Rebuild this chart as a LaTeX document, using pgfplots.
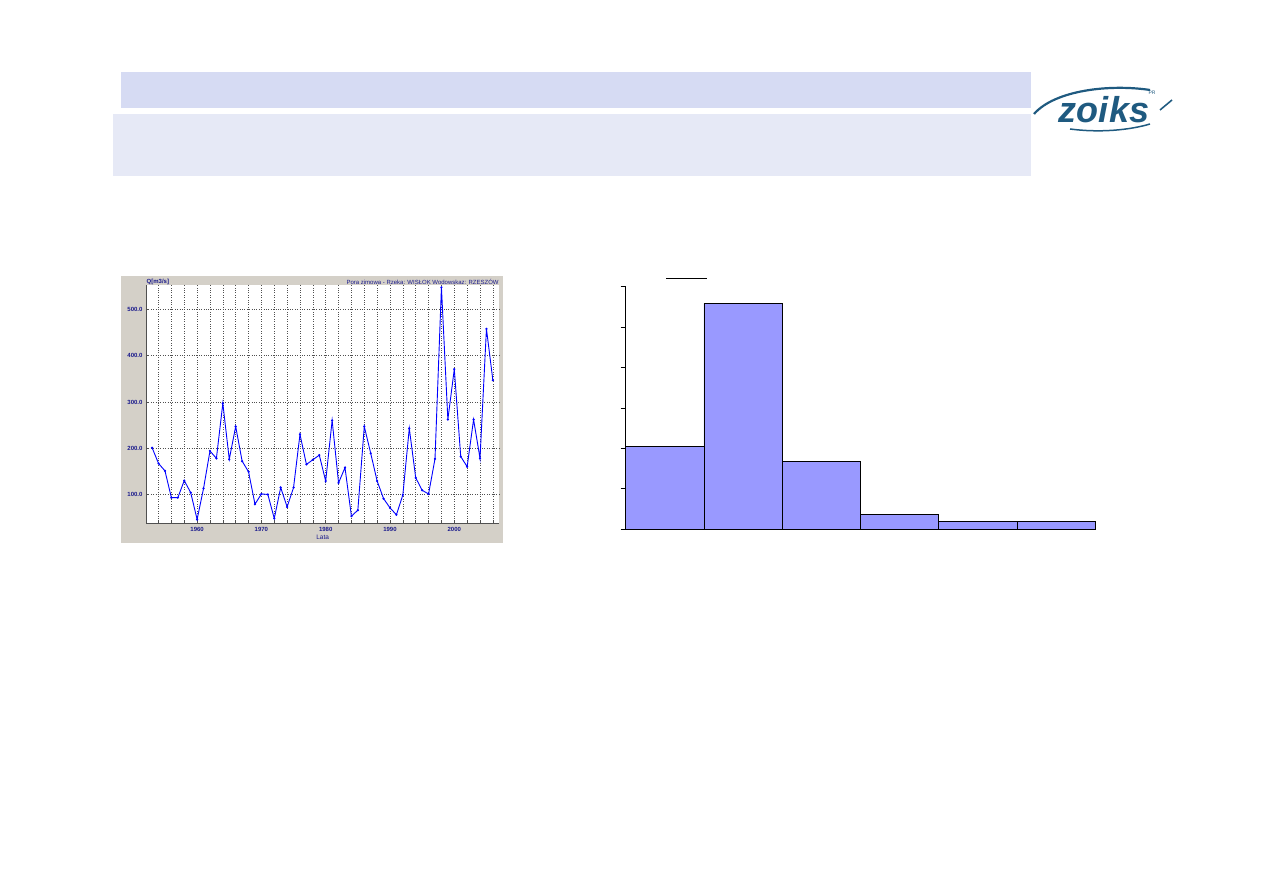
\documentclass[border=0pt]{standalone}
\usepackage{pgfplots}
\pgfplotsset{compat=1.18}
\usepackage{fontspec}
\setmainfont{Liberation Sans}
\definecolor{hdrA}{HTML}{D6DBF3}
\definecolor{hdrB}{HTML}{E6E9F6}
\definecolor{panel}{HTML}{D4D0C8}
\definecolor{navy}{HTML}{1A1A8C}
\definecolor{histfill}{HTML}{9999FF}
\definecolor{logo}{HTML}{1F5A80}
\definecolor{gridc}{HTML}{505050}

\pgfplotstableread{
year q
1953 201
1954 167
1955 151
1956 93
1957 93
1958 130
1959 104
1960 46
1961 113
1962 194
1963 178
1964 297
1965 176
1966 247
1967 172
1968 149
1969 79
1970 101
1971 100
1972 48
1973 115
1974 73
1975 115
1976 230
1977 165
1978 175
1979 185
1980 129
1981 260
1982 125
1983 158
1984 53
1985 66
1986 247
1987 189
1988 129
1989 91
1990 71
1991 56
1992 99
1993 243
1994 136
1995 109
1996 101
1997 177
1998 548
1999 262
2000 371
2001 182
2002 160
2003 262
2004 178
2005 458
2006 347
}\flowdata

\pgfplotstableread{
bin h
0 10.25
1 27.95
2 8.40
3 1.85
4 1.00
5 1.00
6 1.00
}\histdata

\begin{document}
\begin{tikzpicture}[x=1pt,y=1pt]
\path[use as bounding box] (0,0) rectangle (1263,893);
% header bars
\fill[hdrA] (121,893-72) rectangle (1031,893-107.7);
\fill[hdrB] (113,893-114) rectangle (1031,893-175.7);
% logo
\node[font=\bfseries\itshape\fontsize{36}{36}\selectfont, text=logo, inner sep=0pt] at (1104,893-110) {zoiks};
\draw[logo, line width=2.2pt] (1034,893-114) .. controls (1055,893-90) and (1110,893-84) .. (1150,893-90);
\draw[logo, line width=1.5pt] (1070,893-129) .. controls (1100,893-133) and (1130,893-130) .. (1150,893-124);
\draw[logo, line width=1.6pt] (1160,893-110) -- (1172,893-100);
\node[font=\fontsize{5}{5}\selectfont, text=logo] at (1152,893-93) {PR};
% gray panel
\fill[panel] (121,893-276) rectangle (503.3,893-542.7);

\begin{axis}[
  at={(146pt,369.7pt)}, anchor=south west,
  width=353.3pt, height=238.3pt, scale only axis,
  xmin=1952.05, xmax=2007, ymin=37.6, ymax=553,
  axis background/.style={fill=white},
  axis line style={gridc, line width=0.8pt},
  axis x line*=bottom, axis y line*=left,
  xtick={1960,1970,1980,1990,2000},
  minor xtick={1954,1956,...,2006},
  ytick={100,200,300,400,500},
  grid=both,
  major grid style={gridc, dotted, line width=0.5pt},
  minor grid style={gridc, dotted, line width=0.5pt},
  tick style={gridc, line width=0.5pt},
  major tick length=3pt, minor tick length=3pt,
  tick align=inside,
  xticklabel style={font=\bfseries\fontsize{6}{6}\selectfont, text=navy},
  yticklabel style={font=\bfseries\fontsize{6}{6}\selectfont, text=navy},
  /pgf/number format/assume math mode=true,
  xticklabel={\pgfmathprintnumber[1000 sep={}]{\tick}},
  yticklabel={\pgfmathprintnumber[fixed, fixed zerofill, precision=1]{\tick}},
  xlabel={Lata}, xlabel style={font=\fontsize{6.5}{6.5}\selectfont, text=navy, yshift=3pt},
  clip=false,
]
\addplot[blue, line width=0.9pt, mark=*, mark size=0.6pt] table[x=year, y=q] {\flowdata};
\node[anchor=south west, font=\bfseries\fontsize{6}{6}\selectfont, text=navy, inner sep=0.5pt] at (rel axis cs:0,1) {Q[m3/s]};
\node[anchor=south east, font=\fontsize{6}{6}\selectfont, text=navy, inner sep=0.5pt] at (rel axis cs:1,1) {Pora zimowa - Rzeka: WISŁOK Wodowskaz: RZESZÓW};
\end{axis}

\begin{axis}[
  at={(625.7pt,363.7pt)}, anchor=south west,
  width=469.6pt, height=242.6pt, scale only axis,
  xmin=0, xmax=6, ymin=0, ymax=30,
  axis x line=bottom, axis y line=left,
  axis line style={black, line width=0.9pt, -},
  ytick={0,5,...,30}, yticklabels={},
  xtick=\empty,
  tick style={black, line width=0.9pt},
  major tick length=5pt, tick align=outside,
  clip=false,
]
\addplot[const plot mark left, fill=histfill, draw=black, line width=0.9pt] table[x=bin, y=h] {\histdata} \closedcycle;
\addplot[ycomb, black, line width=0.9pt] table[x=bin, y=h] {\histdata};
\draw[black, line width=0.9pt] (axis cs:0.52,31.0) -- (axis cs:1.04,31.0);
\end{axis}
\end{tikzpicture}
\end{document}
